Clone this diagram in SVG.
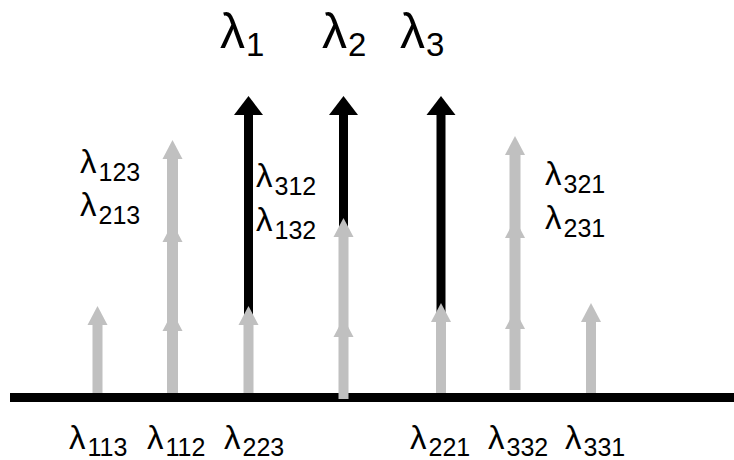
<svg xmlns="http://www.w3.org/2000/svg" width="734" height="460" viewBox="0 0 734 460">
<style>
text{font-family:"Liberation Sans",Arial,sans-serif;fill:#000}
.big{font-size:50px}
.bsub{font-size:33px}
.lab{font-size:33px}
.sub{font-size:25px}
.g{fill:#c0c0c0}
.k{fill:#000}
</style>
<defs>
<polygon id="gh" points="0,0 10,19 -10,19"/>
<polygon id="kh" points="0,0 14.5,19 -14.5,19"/>
</defs>
<rect width="734" height="460" fill="#fff"/>
<g id="baseline"><rect x="10" y="393" width="724" height="9" class="k"/></g>
<g id="arrows">
<g id="black-arrows" class="k">
<rect x="244" y="112" width="9" height="282"/><use href="#kh" x="248.5" y="96"/>
<rect x="339" y="112" width="9" height="282"/><use href="#kh" x="343.5" y="96"/>
<rect x="436.5" y="112" width="9" height="282"/><use href="#kh" x="441" y="96"/>
</g>
<g id="gray-arrows" class="g">
<rect x="92.5" y="322" width="10" height="71"/><use href="#gh" x="97.5" y="306"/>
<rect x="167" y="156" width="11" height="237"/><use href="#gh" x="172.5" y="140"/><use href="#gh" x="172.5" y="223"/><use href="#gh" x="172.5" y="312"/>
<rect x="243.5" y="322" width="10" height="71"/><use href="#gh" x="248.5" y="306"/>
<rect x="338.5" y="234" width="10" height="165"/><use href="#gh" x="343.5" y="218"/><use href="#gh" x="343.5" y="318"/>
<rect x="436" y="319" width="10" height="74"/><use href="#gh" x="441" y="303"/>
<rect x="509.5" y="152" width="11" height="238"/><use href="#gh" x="515" y="136"/><use href="#gh" x="515" y="219"/><use href="#gh" x="515" y="310"/>
<rect x="586" y="319" width="10" height="74"/><use href="#gh" x="591" y="303"/>
</g>
</g>
<g id="labels">
<text x="220" y="48" class="big">λ<tspan class="bsub" dx="1" dy="8">1</tspan></text>
<text x="322" y="48" class="big">λ<tspan class="bsub" dx="1" dy="8">2</tspan></text>
<text x="400" y="48" class="big">λ<tspan class="bsub" dx="1" dy="8">3</tspan></text>
<text x="80" y="173" class="lab">λ<tspan class="sub" dx="2" dy="8">123</tspan></text>
<text x="80" y="216" class="lab">λ<tspan class="sub" dx="2" dy="8">213</tspan></text>
<text x="256" y="187" class="lab">λ<tspan class="sub" dx="2" dy="8">312</tspan></text>
<text x="256" y="231" class="lab">λ<tspan class="sub" dx="2" dy="8">132</tspan></text>
<text x="545" y="185" class="lab">λ<tspan class="sub" dx="2" dy="8">321</tspan></text>
<text x="545" y="229" class="lab">λ<tspan class="sub" dx="2" dy="8">231</tspan></text>
<text x="69" y="449" class="lab">λ<tspan class="sub" dx="2" dy="7">113</tspan></text>
<text x="147" y="449" class="lab">λ<tspan class="sub" dx="2" dy="7">112</tspan></text>
<text x="224" y="449" class="lab">λ<tspan class="sub" dx="2" dy="7">223</tspan></text>
<text x="410" y="449" class="lab">λ<tspan class="sub" dx="2" dy="7">221</tspan></text>
<text x="488" y="449" class="lab">λ<tspan class="sub" dx="2" dy="7">332</tspan></text>
<text x="565" y="449" class="lab">λ<tspan class="sub" dx="2" dy="7">331</tspan></text>
</g>
</svg>
